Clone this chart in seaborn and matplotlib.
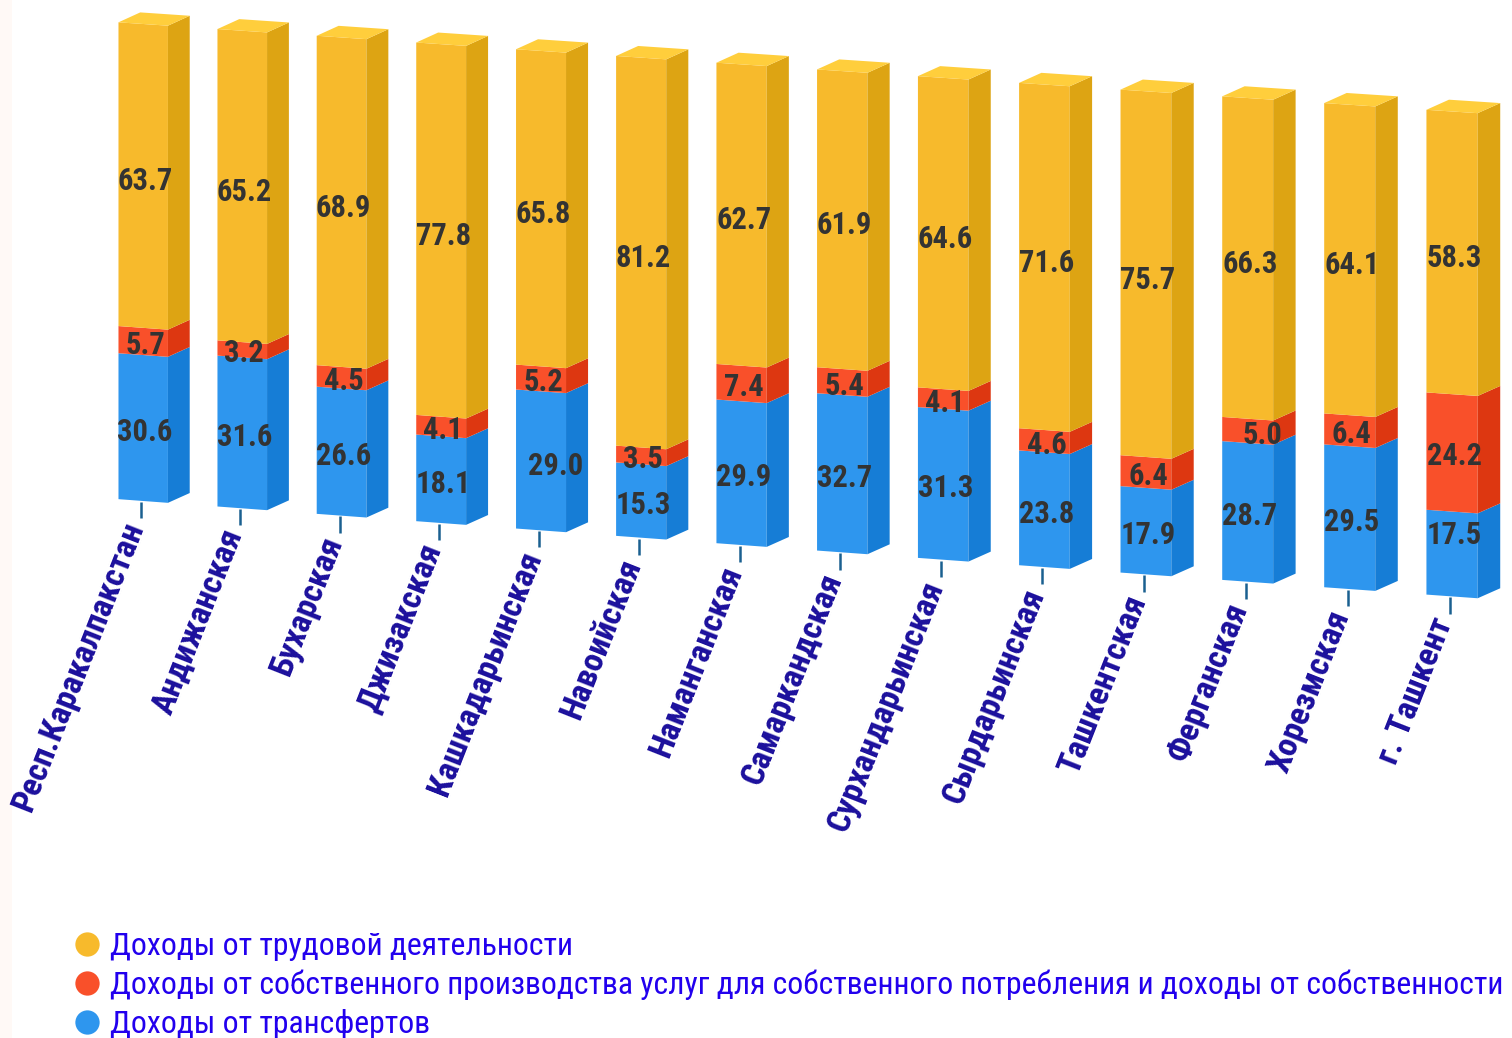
import numpy as np
import pandas as pd
import matplotlib
matplotlib.use("Agg")
import matplotlib.pyplot as plt
from matplotlib.lines import Line2D
from matplotlib.patches import Polygon, Rectangle
from matplotlib.transforms import Transform
import seaborn as sns

regions = ["Респ.Каракалпакстан", "Андижанская", "Бухарская", "Джизакская", "Кашкадарьинская",
           "Навоийская", "Наманганская", "Самаркандская", "Сурхандарьинская", "Сырдарьинская",
           "Ташкентская", "Ферганская", "Хорезмская", "г. Ташкент"]
transfers = [30.6, 31.6, 26.6, 18.1, 29.0, 15.3, 29.9, 32.7, 31.3, 23.8, 17.9, 28.7, 29.5, 17.5]
own_prod = [5.7, 3.2, 4.5, 4.1, 5.2, 3.5, 7.4, 5.4, 4.1, 4.6, 6.4, 5.0, 6.4, 24.2]
labour = [63.7, 65.2, 68.9, 77.8, 65.8, 81.2, 62.7, 61.9, 64.6, 71.6, 75.7, 66.3, 64.1, 58.3]
legend_labels = ["Доходы от трудовой деятельности",
                 "Доходы от собственного производства услуг для собственного потребления и доходы от собственности",
                 "Доходы от трансфертов"]

W, H = 1512, 1038
# pixel layout of the fake 3d
X0, STEP = 143.2, 100.0
Y0, PX_PER_UNIT = 501.0, 4.77
SLOPE, GROW = 0.0734, 1.28e-5
BOW = 0.136

# labels that sit away from the middle of their segment in the original (px right, px down)
label_nudge = {(4, "transfers"): (13, 0), (11, "own"): (13, 0), (13, "transfers"): (0, -23)}

sns.set_theme(style="white")
plt.rcParams["font.family"] = ["Roboto Condensed", "DejaVu Sans"]


class Lean(Transform):
    # bars run downhill to the right, get slightly taller, and spacing bows a little
    input_dims = 2
    output_dims = 2

    def transform_non_affine(self, values):
        pts = np.array(values, dtype=float)
        dx = pts[:, 0] - X0
        u = dx / STEP
        base = H - Y0
        pts[:, 1] = base - SLOPE * dx + (pts[:, 1] - base) * (1 + GROW * dx)
        pts[:, 0] = pts[:, 0] + BOW * ((u - 4) ** 2 - 16)
        return pts


fig = plt.figure(figsize=(W / 100, H / 100), dpi=100)
ax = fig.add_axes([0, 0, 1, 1])

df = pd.DataFrame({"region": regions, "transfers": transfers, "own": own_prod, "labour": labour})
series = [("transfers", "#2E96EE", "#167DD6", -0.8),
          ("own", "#F9502A", "#DD3711", -0.7),
          ("labour", "#F7BA2C", "#DDA413", -1.1)]

bottom = np.zeros(len(df))
bottoms = {}
for col, front, side, lift in series:
    sns.barplot(data=df, x="region", y=col, bottom=bottom, color=front, saturation=1,
                width=0.5, ax=ax, linewidth=0)
    bottoms[col] = bottom.copy()
    bottom = bottom + df[col].values

ax.set_xlim(-X0 / STEP, (W - X0) / STEP)
ax.set_ylim(-(H - Y0) / PX_PER_UNIT, Y0 / PX_PER_UNIT)
ax.set_axis_off()

lean = ax.transData + Lean()
for p in ax.patches:
    p.set_transform(lean)

half = 0.25
dep_x = 22 / STEP
dep_v = 11.4 / PX_PER_UNIT

# side faces and value labels
for col, front, side, lift in series:
    for i in range(len(df)):
        lo = bottoms[col][i]
        hi = lo + df[col][i]
        r = i + half
        ax.add_patch(Polygon([(r, lo), (r + dep_x, lo + dep_v), (r + dep_x, hi + dep_v), (r, hi)],
                             closed=True, fc=side, ec="none", transform=lean))
        nx, ny = label_nudge.get((i, col), (0, 0))
        ax.text(i + (nx + 2) / STEP, lo + df[col][i] / 2 + lift - ny / PX_PER_UNIT, f"{df[col][i]:.1f}",
                transform=lean, ha="center", va="center",
                fontsize=22, fontweight="bold", color="#333333", zorder=5)

# top faces, ticks, region names
for i in range(len(df)):
    ax.add_patch(Polygon([(i - half, 100), (i - half + dep_x, 100 + dep_v),
                          (i + half + dep_x, 100 + dep_v), (i + half, 100)],
                         closed=True, fc="#FFCE3C", ec="none", transform=lean))
    ax.plot([i - 0.02, i - 0.02], [-0.2, -3.6], color="#1A6090", lw=1.8, transform=lean, solid_capstyle="butt")
    ax.text(i - 0.08, -4.8, regions[i], transform=lean, rotation=68.5, rotation_mode="anchor",
            ha="right", va="center", fontsize=24.3, fontweight="bold", color="#1B0F9C")

fig.add_artist(Rectangle((0, 0), 12 / W, 1, transform=fig.transFigure, fc="#FFF9F6", ec="none", zorder=-1))

handles = [Line2D([], [], ls="none", marker="o", ms=17.5, mfc=c, mec="none")
           for c in ["#F7BA2C", "#F9502A", "#2E96EE"]]
fig.legend(handles, legend_labels, loc="lower left", bbox_to_anchor=(65 / W, -4 / H), frameon=False,
           fontsize=22.9, labelcolor="#2200EE", handlelength=1.2, handletextpad=0.1,
           labelspacing=0.27, borderpad=0.1, borderaxespad=0)

fig.savefig("out.png", dpi=100)
